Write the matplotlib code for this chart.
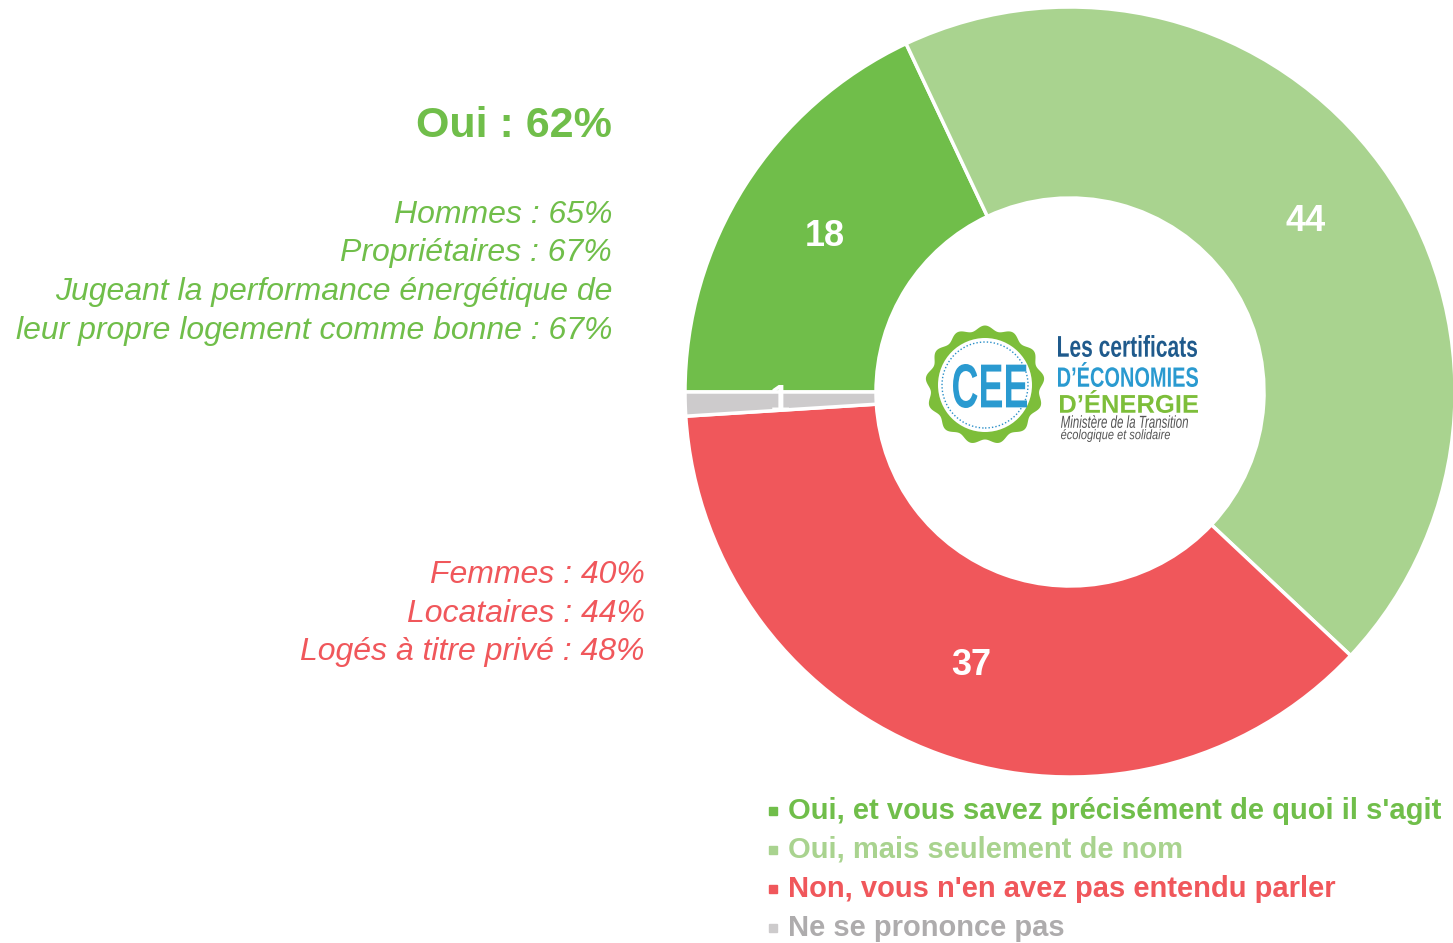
import numpy as np
import matplotlib
matplotlib.use('Agg')
import matplotlib.pyplot as plt
from matplotlib.patches import Polygon, Circle, PathPatch
from matplotlib.textpath import TextPath
from matplotlib.font_manager import FontProperties
from matplotlib.transforms import Affine2D

# Data
categories = ["Oui, et vous savez précisément de quoi il s'agit",
              "Oui, mais seulement de nom",
              "Non, vous n'en avez pas entendu parler",
              "Ne se prononce pas"]
values = [18, 44, 37, 1]
colors = ['#70BE4A', '#A9D38F', '#F0575B', '#CDCBCC']
legend_text_colors = ['#70BE4A', '#A9D38F', '#F0575B', '#AEACAD']

oui_title = 'Oui : 62%'
oui_details = ['Hommes : 65%', 'Propriétaires : 67%',
               'Jugeant la performance énergétique de',
               'leur propre logement comme bonne : 67%']
non_details = ['Femmes : 40%', 'Locataires : 44%', 'Logés à titre privé : 48%']

plt.rcParams['font.family'] = ['Liberation Sans', 'DejaVu Sans']

W, H = 1453, 943
fig = plt.figure(figsize=(W / 100, H / 100), dpi=100)
ax = fig.add_axes([0, 0, 1, 1])


def Y(y):
    # pixel row (from top) to data y
    return H - y


def fitted_text(s, x0, x1, ytop, ybot, color, weight='normal', style='normal'):
    # condensed logo lettering: squeeze the glyph outlines into a box
    fp = FontProperties(family='Liberation Sans', weight=weight, style=style)
    tp = TextPath((0, 0), s, size=100, prop=fp)
    ext = tp.get_extents()
    sx = (x1 - x0) / ext.width
    sy = (ybot - ytop) / ext.height
    tr = Affine2D().translate(-ext.x0, -ext.y0).scale(sx, sy).translate(x0, Y(ybot))
    ax.add_patch(PathPatch(tr.transform_path(tp), facecolor=color, edgecolor='none'))


cx, cy, R = 1070, 392, 385
wedges, _, autotexts = ax.pie(values, colors=colors, startangle=180, counterclock=False,
                              center=(cx, Y(cy)), radius=R,
                              autopct=lambda p: f'{p:.0f}', pctdistance=0.755,
                              wedgeprops=dict(width=191, edgecolor='white', linewidth=2.5),
                              textprops=dict(color='white', fontsize=26, fontweight='bold'))
ax.set_xlim(0, W)
ax.set_ylim(0, H)
ax.set_aspect('equal')
ax.axis('off')

# Left annotations
green = colors[0]
red = colors[2]
ax.text(612, Y(126), oui_title, ha='right', va='center', color=green,
        fontsize=31, fontweight='bold')
for i, line in enumerate(oui_details):
    ax.text(612, Y(215 + i * 38.5), line, ha='right', va='center', color=green,
            fontsize=23, fontstyle='italic')
for i, line in enumerate(non_details):
    ax.text(645, Y(575 + i * 38.5), line, ha='right', va='center', color=red,
            fontsize=23, fontstyle='italic')

# Legend
for i, (cat, c, tc) in enumerate(zip(categories, colors, legend_text_colors)):
    yy = Y(811 + i * 39)
    ax.plot([773], [yy], marker='s', markersize=6, color=c, linestyle='none')
    ax.text(788, yy, cat, ha='left', va='center', color=tc, fontsize=21,
            fontweight='bold')

# Logo in the center
bx, by = 985, Y(385)
theta = np.linspace(0, 2 * np.pi, 400)
rr = 57 + 2.5 * np.sin(13 * theta)
ax.add_patch(Polygon(np.column_stack([bx + rr * np.cos(theta), by + rr * np.sin(theta)]),
                     closed=True, facecolor='#7DBE3A', edgecolor='none'))
ax.add_patch(Circle((bx, by), 47, facecolor='white', edgecolor='none'))
ax.add_patch(Circle((bx, by), 43, facecolor='none', edgecolor='#2A8FC8',
                    linestyle=(0, (1, 1.5)), linewidth=1))
fitted_text('CEE', 953, 1027, 364, 408, '#2A9AD0', weight='bold')
fitted_text('Les certificats', 1058, 1197, 335, 357, '#1F5A8C', weight='bold')
fitted_text('D\u2019ÉCONOMIES', 1058, 1198, 362, 387, '#2A9AD0', weight='bold')
fitted_text('D\u2019ÉNERGIE', 1060, 1198, 390, 413, '#7DBE3A', weight='bold')
fitted_text('Ministère de la Transition', 1061, 1188, 415, 428, '#555555', style='italic')
fitted_text('écologique et solidaire', 1061, 1170, 429, 442, '#555555', style='italic')

fig.savefig('out.png', dpi=100, facecolor='white')
